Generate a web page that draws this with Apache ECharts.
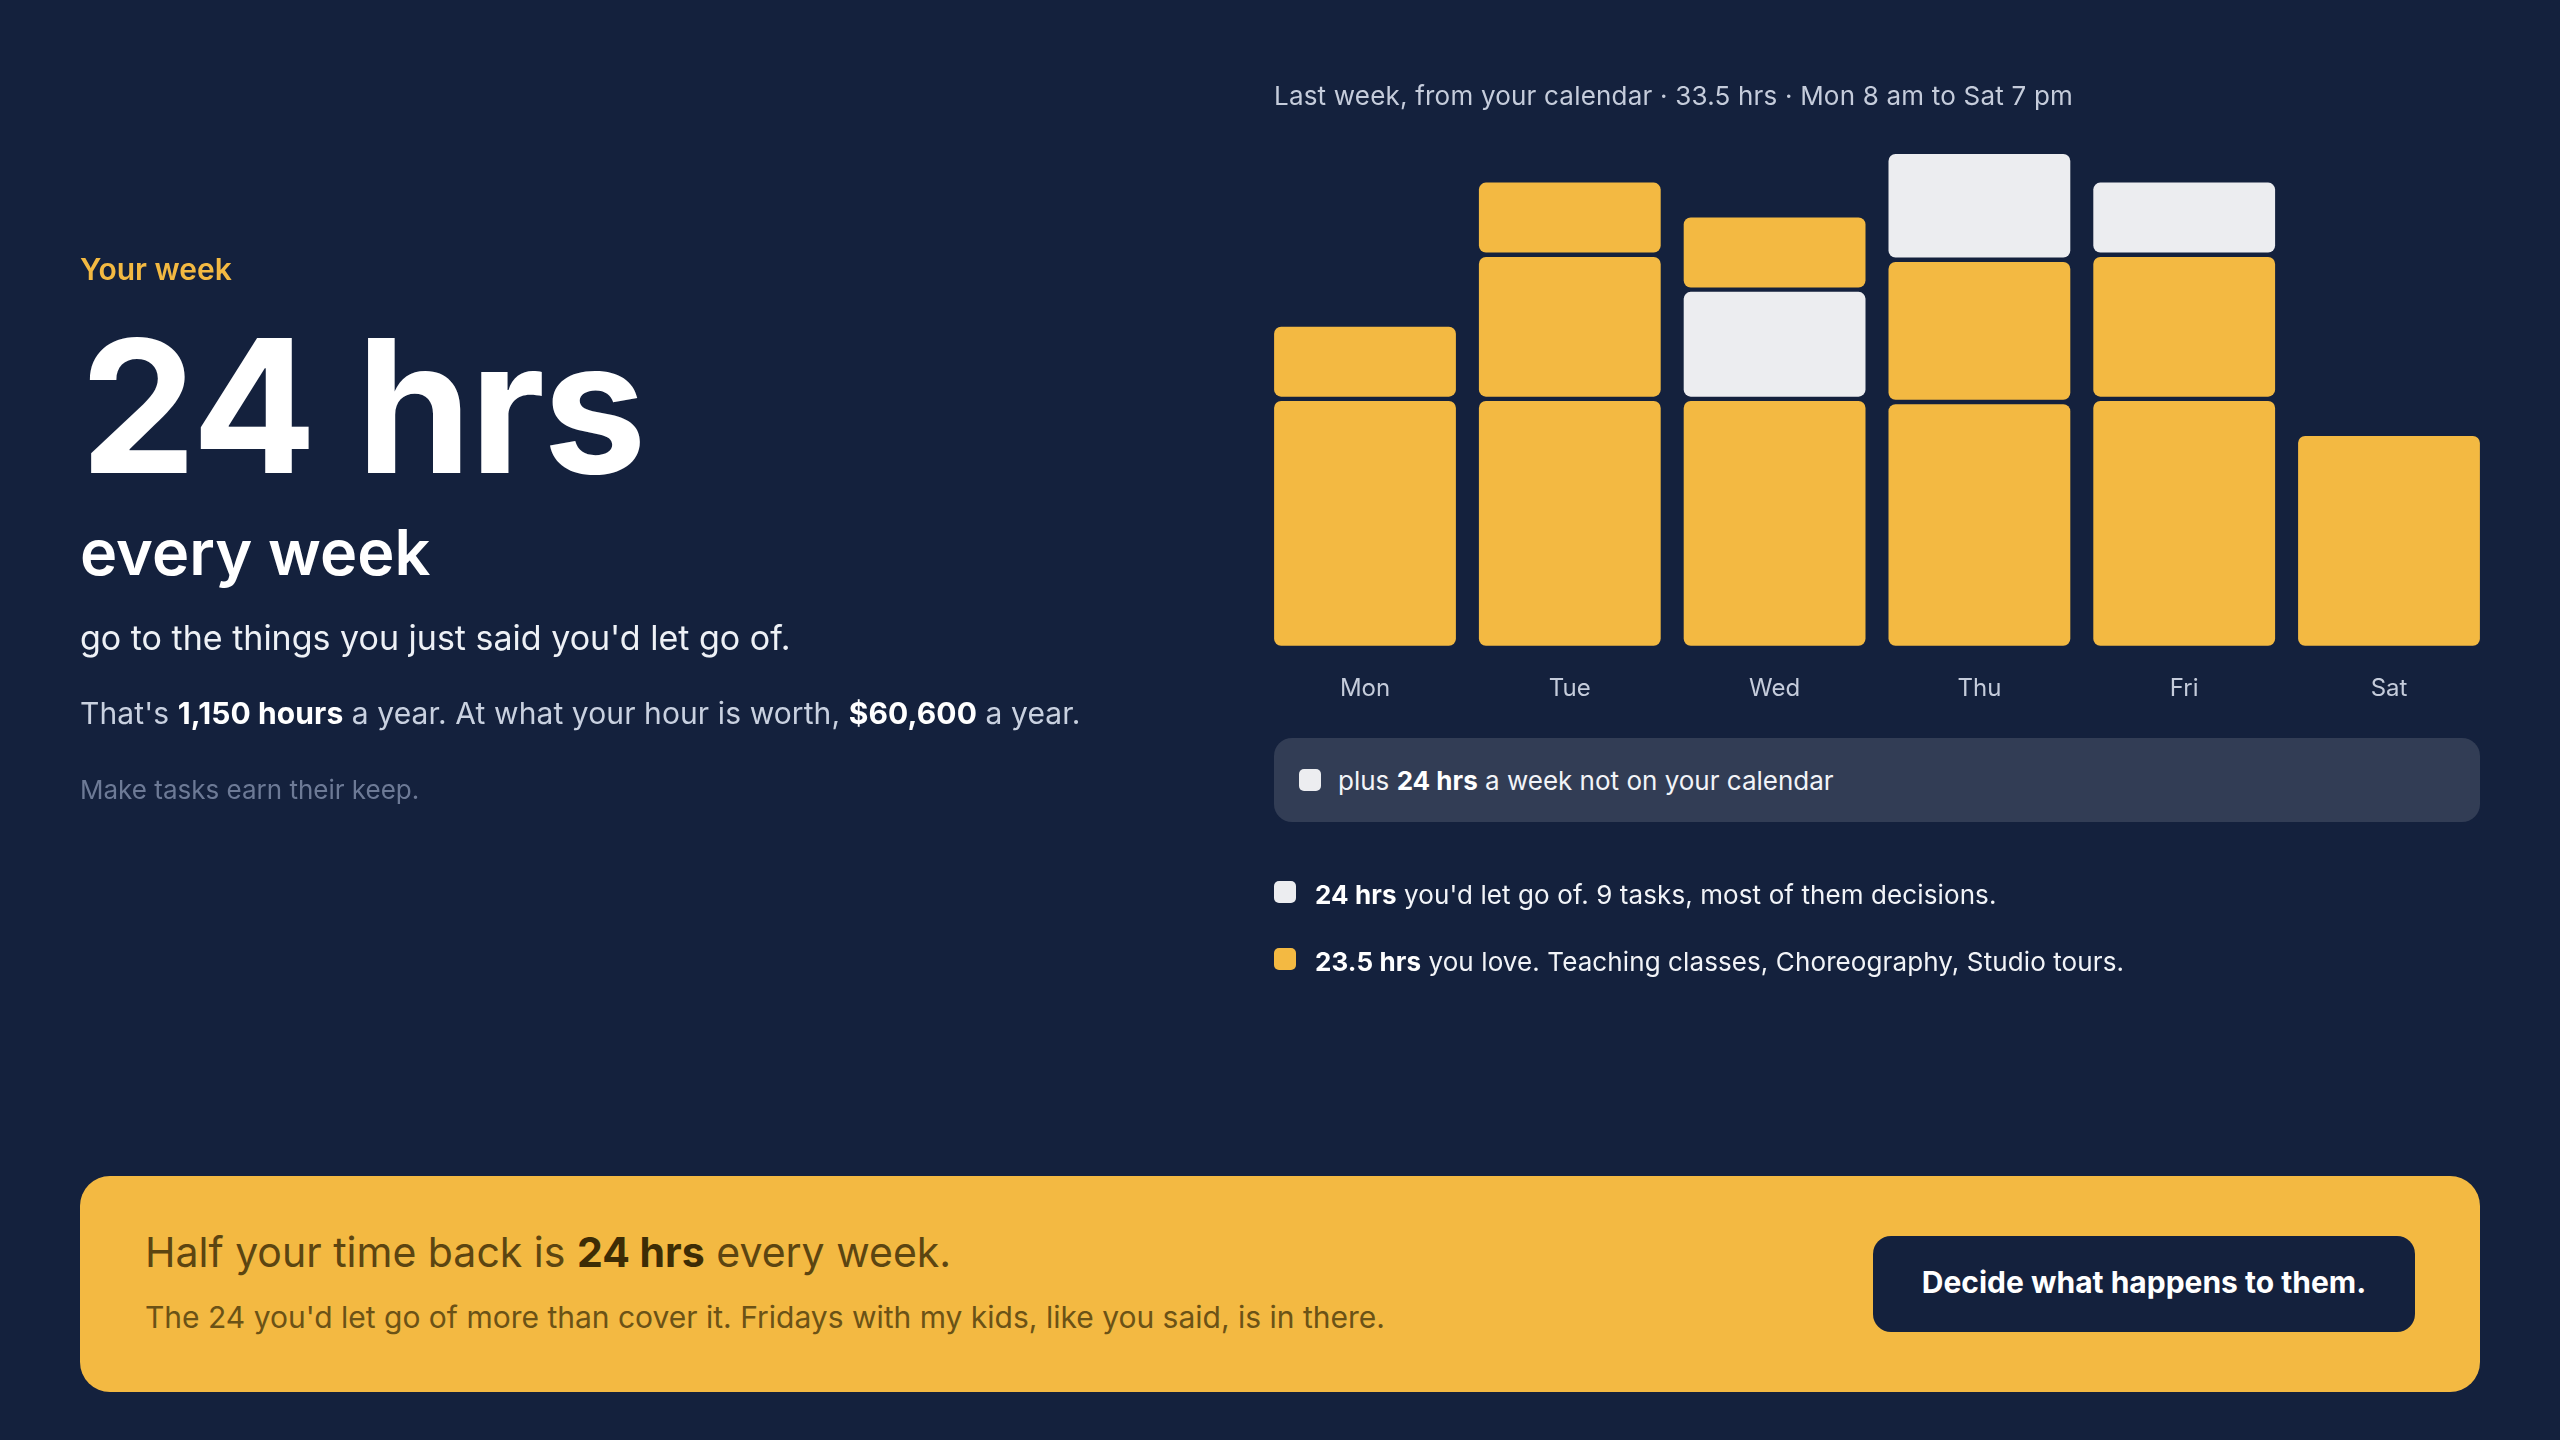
<!DOCTYPE html>
<html>
<head>
<meta charset="utf-8">
<script src="https://cdn.jsdelivr.net/npm/echarts@6/dist/echarts.min.js"></script>
<style>
  html, body { margin: 0; padding: 0; background: #14213D; width: 2560px; height: 1440px; overflow: hidden; font-family: Inter, 'Noto Sans', sans-serif; }
  #chart { position: absolute; left: 0; top: 0; width: 2560px; height: 1440px; }
  .t { position: absolute; line-height: 1; white-space: nowrap; }
  b { font-weight: 700; }
  .sw { position: absolute; width: 22px; height: 22px; border-radius: 5px; }
</style>
</head>
<body>
<div id="chart"></div>

<div class="t" style="left:80px; top:254px; font-size:30px; font-weight:600; color:#F3B942;">Your week</div>
<div class="t" style="left:80px; top:314px; font-size:185px; font-weight:700; color:#FFFFFF; letter-spacing:-2px;">24 hrs</div>
<div class="t" style="left:80px; top:521px; font-size:63px; font-weight:600; color:#FFFFFF;">every week</div>
<div class="t" style="left:80px; top:621px; font-size:34px; font-weight:400; color:#EEF1F6;">go to the things you just said you'd let go of.</div>
<div class="t" style="left:80px; top:697.5px; font-size:30px; font-weight:400; color:#C9D1E0; letter-spacing:0.1px;">That's <b style="color:#fff">1,150 hours</b> a year. At what your hour is worth, <b style="color:#fff">$60,600</b> a year.</div>
<div class="t" style="left:80px; top:777px; font-size:26px; font-weight:400; color:#6D7A96;">Make tasks earn their keep.</div>

<div class="t" style="left:1274px; top:82.5px; font-size:26px; color:#C5CCDB; letter-spacing:0.2px;">Last week, from your calendar · 33.5 hrs · Mon 8 am to Sat 7 pm</div>

<div style="position:absolute; left:1274px; top:738px; width:1206px; height:84px; background:#323D55; border-radius:18px;"></div>
<div class="sw" style="left:1299px; top:769px; background:#ECEDF0;"></div>
<div class="t" style="left:1338px; top:767.5px; font-size:26px; color:#F2F4F8;">plus <b style="color:#fff">24 hrs</b> a week not on your calendar</div>

<div class="sw" style="left:1274px; top:881px; background:#ECEDF0;"></div>
<div class="t" style="left:1315px; top:882px; font-size:26px; color:#F2F4F8; letter-spacing:0.1px;"><b style="color:#fff">24 hrs</b> you'd let go of. 9 tasks, most of them decisions.</div>
<div class="sw" style="left:1274px; top:948px; background:#F3B942;"></div>
<div class="t" style="left:1315px; top:949px; font-size:26px; color:#F2F4F8; letter-spacing:0.1px;"><b style="color:#fff">23.5 hrs</b> you love. Teaching classes, Choreography, Studio tours.</div>

<div style="position:absolute; left:80px; top:1176px; width:2400px; height:216px; background:#F3B942; border-radius:30px;"></div>
<div class="t" style="left:145px; top:1232px; font-size:41px; color:#5C4511;">Half your time back is <b style="color:#3D2C05">24 hrs</b> every week.</div>
<div class="t" style="left:145px; top:1302px; font-size:30px; color:#6B5216;">The 24 you'd let go of more than cover it. Fridays with my kids, like you said, is in there.</div>
<div style="position:absolute; left:1873px; top:1236px; width:542px; height:96px; background:#14213D; border-radius:18px;"></div>
<div class="t" style="left:1873px; width:542px; text-align:center; top:1267px; font-size:30px; font-weight:700; color:#FFFFFF;">Decide what happens to them.</div>

<script>
// Categories
const days = ['Mon', 'Tue', 'Wed', 'Thu', 'Fri', 'Sat'];
// Calendar blocks per day, bottom to top (hours)
const lowerBlockHrs  = [3.5, 3.5, 3.5, 3.5, 3.5, 3];
const middleBlockHrs = [1,   2,   1.5, 2,   2,   0];
const upperBlockHrs  = [0,   1,   1,   1.5, 1,   0];
// Block kinds: 'love' = hours you love, 'letGo' = hours you'd let go of
const lowerBlockKind  = ['love', 'love', 'love',  'love',  'love',  'love'];
const middleBlockKind = ['love', 'love', 'letGo', 'love',  'love',  ''];
const upperBlockKind  = ['',     'love', 'love',  'letGo', 'letGo', ''];

const kindColor = { love: '#F3B942', letGo: '#ECEDF0' };
const GAP = 4.4;
const BAR_RATIO = 181.8 / 204.8;

const chart = echarts.init(document.getElementById('chart'), null, { renderer: 'canvas' });

function renderDay(params, api) {
  const i = api.value(0);
  const blocks = [
    [lowerBlockHrs[i], lowerBlockKind[i]],
    [middleBlockHrs[i], middleBlockKind[i]],
    [upperBlockHrs[i], upperBlockKind[i]]
  ].filter(b => b[0] > 0);
  const base = api.coord([i, 0]);
  const band = api.size([1, 1]);
  const unit = band[1];
  const barW = band[0] * BAR_RATIO;
  const gridTop = params.coordSys.y;
  const gaps = (blocks.length - 1) * GAP;
  const segTotal = blocks.reduce((s, b) => s + b[0] * unit, 0);
  const avail = base[1] - gridTop - gaps;
  const scale = Math.min(1, avail / segTotal);
  let y = base[1];
  const children = blocks.map(b => {
    const h = b[0] * unit * scale;
    const rect = {
      type: 'rect',
      shape: { x: base[0] - barW / 2, y: y - h, width: barW, height: h, r: 7 },
      style: { fill: kindColor[b[1]] }
    };
    y -= h + GAP;
    return rect;
  });
  return { type: 'group', children };
}

chart.setOption({
  backgroundColor: 'transparent',
  animation: false,
  grid: { left: 1262.6, top: 154, width: 1228.8, height: 491.7, containLabel: false },
  xAxis: {
    type: 'category',
    data: days,
    axisLine: { show: false },
    axisTick: { show: false },
    axisLabel: { color: '#C5CCDB', fontSize: 24, margin: 31, fontFamily: 'Inter' }
  },
  yAxis: { type: 'value', min: 0, max: 7.035, show: false, splitLine: { show: false } },
  series: [{
    type: 'custom',
    renderItem: renderDay,
    data: days.map((d, i) => [i]),
    encode: { x: 0 }
  }]
});
</script>
</body>
</html>
